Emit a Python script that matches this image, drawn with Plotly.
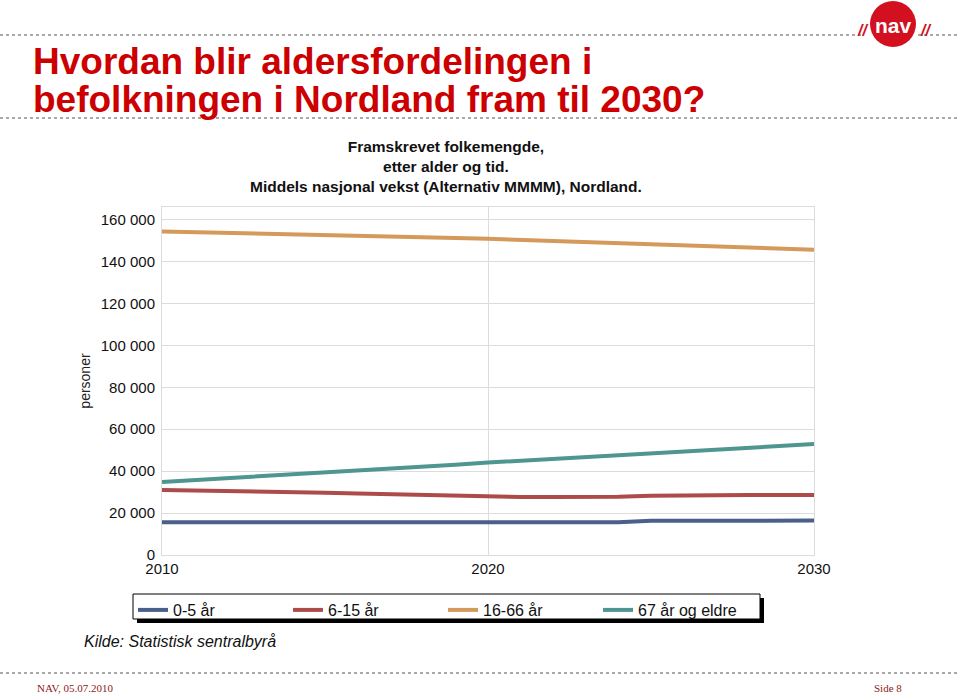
import plotly.graph_objects as go

years = list(range(2010, 2031))
age_0_5 = [15600, 15600, 15600, 15600, 15600, 15600, 15600, 15600, 15600, 15600, 15600,
           15600, 15600, 15600, 15600, 16300, 16400, 16400, 16400, 16400, 16400]
age_6_15 = [31000, 30800, 30500, 30200, 30000, 29700, 29300, 28900, 28500, 28100, 27800,
            27700, 27700, 27700, 27800, 28300, 28500, 28600, 28600, 28600, 28600]
age_16_66 = [154300, 154000, 153700, 153400, 153100, 152700, 152400, 152000, 151600, 151200, 150800,
             150300, 149800, 149300, 148800, 148300, 147800, 147300, 146700, 146200, 145600]
age_67 = [34800, 35700, 36500, 37300, 38200, 39100, 40100, 41100, 42100, 43100, 44100,
          45000, 45900, 46800, 47700, 48600, 49500, 50300, 51100, 52000, 52900]

series_names = ["0-5 år", "6-15 år", "16-66 år", "67 år og eldre"]
series_values = [age_0_5, age_6_15, age_16_66, age_67]
colors = ["#4a5f8a", "#ad4b4b", "#d49a5c", "#4f9590"]

y_ticks = [0, 20000, 40000, 60000, 80000, 100000, 120000, 140000, 160000]
y_labels = ["0", "20 000", "40 000", "60 000", "80 000", "100 000", "120 000", "140 000", "160 000"]

L, R, T, B = 162, 814, 207, 555
W, H = 960, 698

def px(x):
    return (x - L) / (R - L)

def py(y):
    return (B - y) / (B - T)

fig = go.Figure()
for name, vals, c in zip(series_names, series_values, colors):
    fig.add_trace(go.Scatter(x=years, y=vals, name=name, mode="lines",
                             line=dict(color=c, width=4)))

shapes = []
for (x0, x1, y) in [(0, 862, 35), (918, 960, 35), (0, 960, 118), (0, 960, 673)]:
    shapes.append(dict(type="line", xref="paper", yref="paper", x0=px(x0), x1=px(x1),
                       y0=py(y), y1=py(y), line=dict(color="#a8a8a8", width=2, dash="dot")))
shapes.append(dict(type="circle", xref="paper", yref="paper", x0=px(870), x1=px(916),
                   y0=py(47), y1=py(1), fillcolor="#d2101f", line=dict(width=0)))
shapes.append(dict(type="rect", xref="paper", yref="paper", x0=px(137), x1=px(764),
                   y0=py(623), y1=py(598), fillcolor="#000000", line=dict(width=0), layer="below"))
shapes.append(dict(type="rect", xref="paper", yref="paper", x0=px(133), x1=px(760),
                   y0=py(619), y1=py(594), fillcolor="#ffffff", line=dict(color="#000", width=1), layer="below"))

title_font = dict(family="Liberation Sans, Arial", size=37, color="#cc0000")
annotations = [
    dict(text="<b>Hvordan blir aldersfordelingen i</b>",
         xref="paper", yref="paper", x=px(31), y=py(61), xanchor="left", yanchor="middle",
         showarrow=False, align="left", font=title_font),
    dict(text="<b>befolkningen i Nordland fram til 2030?</b>",
         xref="paper", yref="paper", x=px(31), y=py(100), xanchor="left", yanchor="middle",
         showarrow=False, align="left", font=title_font),
    dict(text="<b>Framskrevet folkemengde,<br>etter alder og tid.<br>Middels nasjonal vekst (Alternativ MMMM), Nordland.</b>",
         xref="paper", yref="paper", x=px(446), y=py(136), xanchor="center", yanchor="top",
         showarrow=False, align="center",
         font=dict(family="Arial", size=15.5, color="#111")),
    dict(text="<i>Kilde: Statistisk sentralbyrå</i>", xref="paper", yref="paper",
         x=px(82), y=py(641), xanchor="left", yanchor="middle", showarrow=False,
         font=dict(family="Arial", size=16, color="#111")),
    dict(text="NAV, 05.07.2010", xref="paper", yref="paper", x=px(35), y=py(688),
         xanchor="left", yanchor="middle", showarrow=False,
         font=dict(family="Liberation Serif, Times New Roman", size=11, color="#8b1a1a")),
    dict(text="Side 8", xref="paper", yref="paper", x=px(904), y=py(688),
         xanchor="right", yanchor="middle", showarrow=False,
         font=dict(family="Liberation Serif, Times New Roman", size=11, color="#8b1a1a")),
    dict(text="<b>nav</b>", xref="paper", yref="paper", x=px(893), y=py(25),
         xanchor="center", yanchor="middle", showarrow=False,
         font=dict(family="Arial", size=21, color="#ffffff")),
    dict(text="<b><i>//</i></b>", xref="paper", yref="paper", x=px(862), y=py(31),
         xanchor="center", yanchor="middle", showarrow=False,
         font=dict(family="Arial", size=16, color="#d2101f")),
    dict(text="<b><i>//</i></b>", xref="paper", yref="paper", x=px(926), y=py(31),
         xanchor="center", yanchor="middle", showarrow=False,
         font=dict(family="Arial", size=16, color="#d2101f")),
]

fig.update_layout(
    width=W, height=H,
    margin=dict(l=L, r=W - R, t=T, b=H - B, pad=0),
    paper_bgcolor="white", plot_bgcolor="white",
    showlegend=True,
    legend=dict(orientation="h", x=px(133), y=py(593), xanchor="left", yanchor="top",
                bgcolor="rgba(0,0,0,0)", borderwidth=0, entrywidth=110, entrywidthmode="pixels",
                font=dict(family="Arial", size=16, color="#111"),
                itemwidth=30, tracegroupgap=0),
    shapes=shapes,
    annotations=annotations,
    xaxis=dict(range=[2010, 2030], tickvals=[2010, 2020, 2030], showgrid=True,
               gridcolor="#dcdcdc", gridwidth=1, zeroline=False, showline=True,
               linecolor="#dcdcdc", mirror=True, ticks="", ticklen=0,
               tickfont=dict(family="Arial", size=15, color="#111")),
    yaxis=dict(range=[0, 166000], tickvals=y_ticks, ticktext=y_labels, showgrid=True,
               gridcolor="#dcdcdc", gridwidth=1, zeroline=False, showline=True,
               linecolor="#dcdcdc", mirror=True, ticks="outside", ticklen=3, tickcolor="white",
               title=dict(text="personer", standoff=6,
                          font=dict(family="Arial", size=14, color="#222")),
               tickfont=dict(family="Arial", size=15, color="#111")),
)

fig.write_html("out.html")
